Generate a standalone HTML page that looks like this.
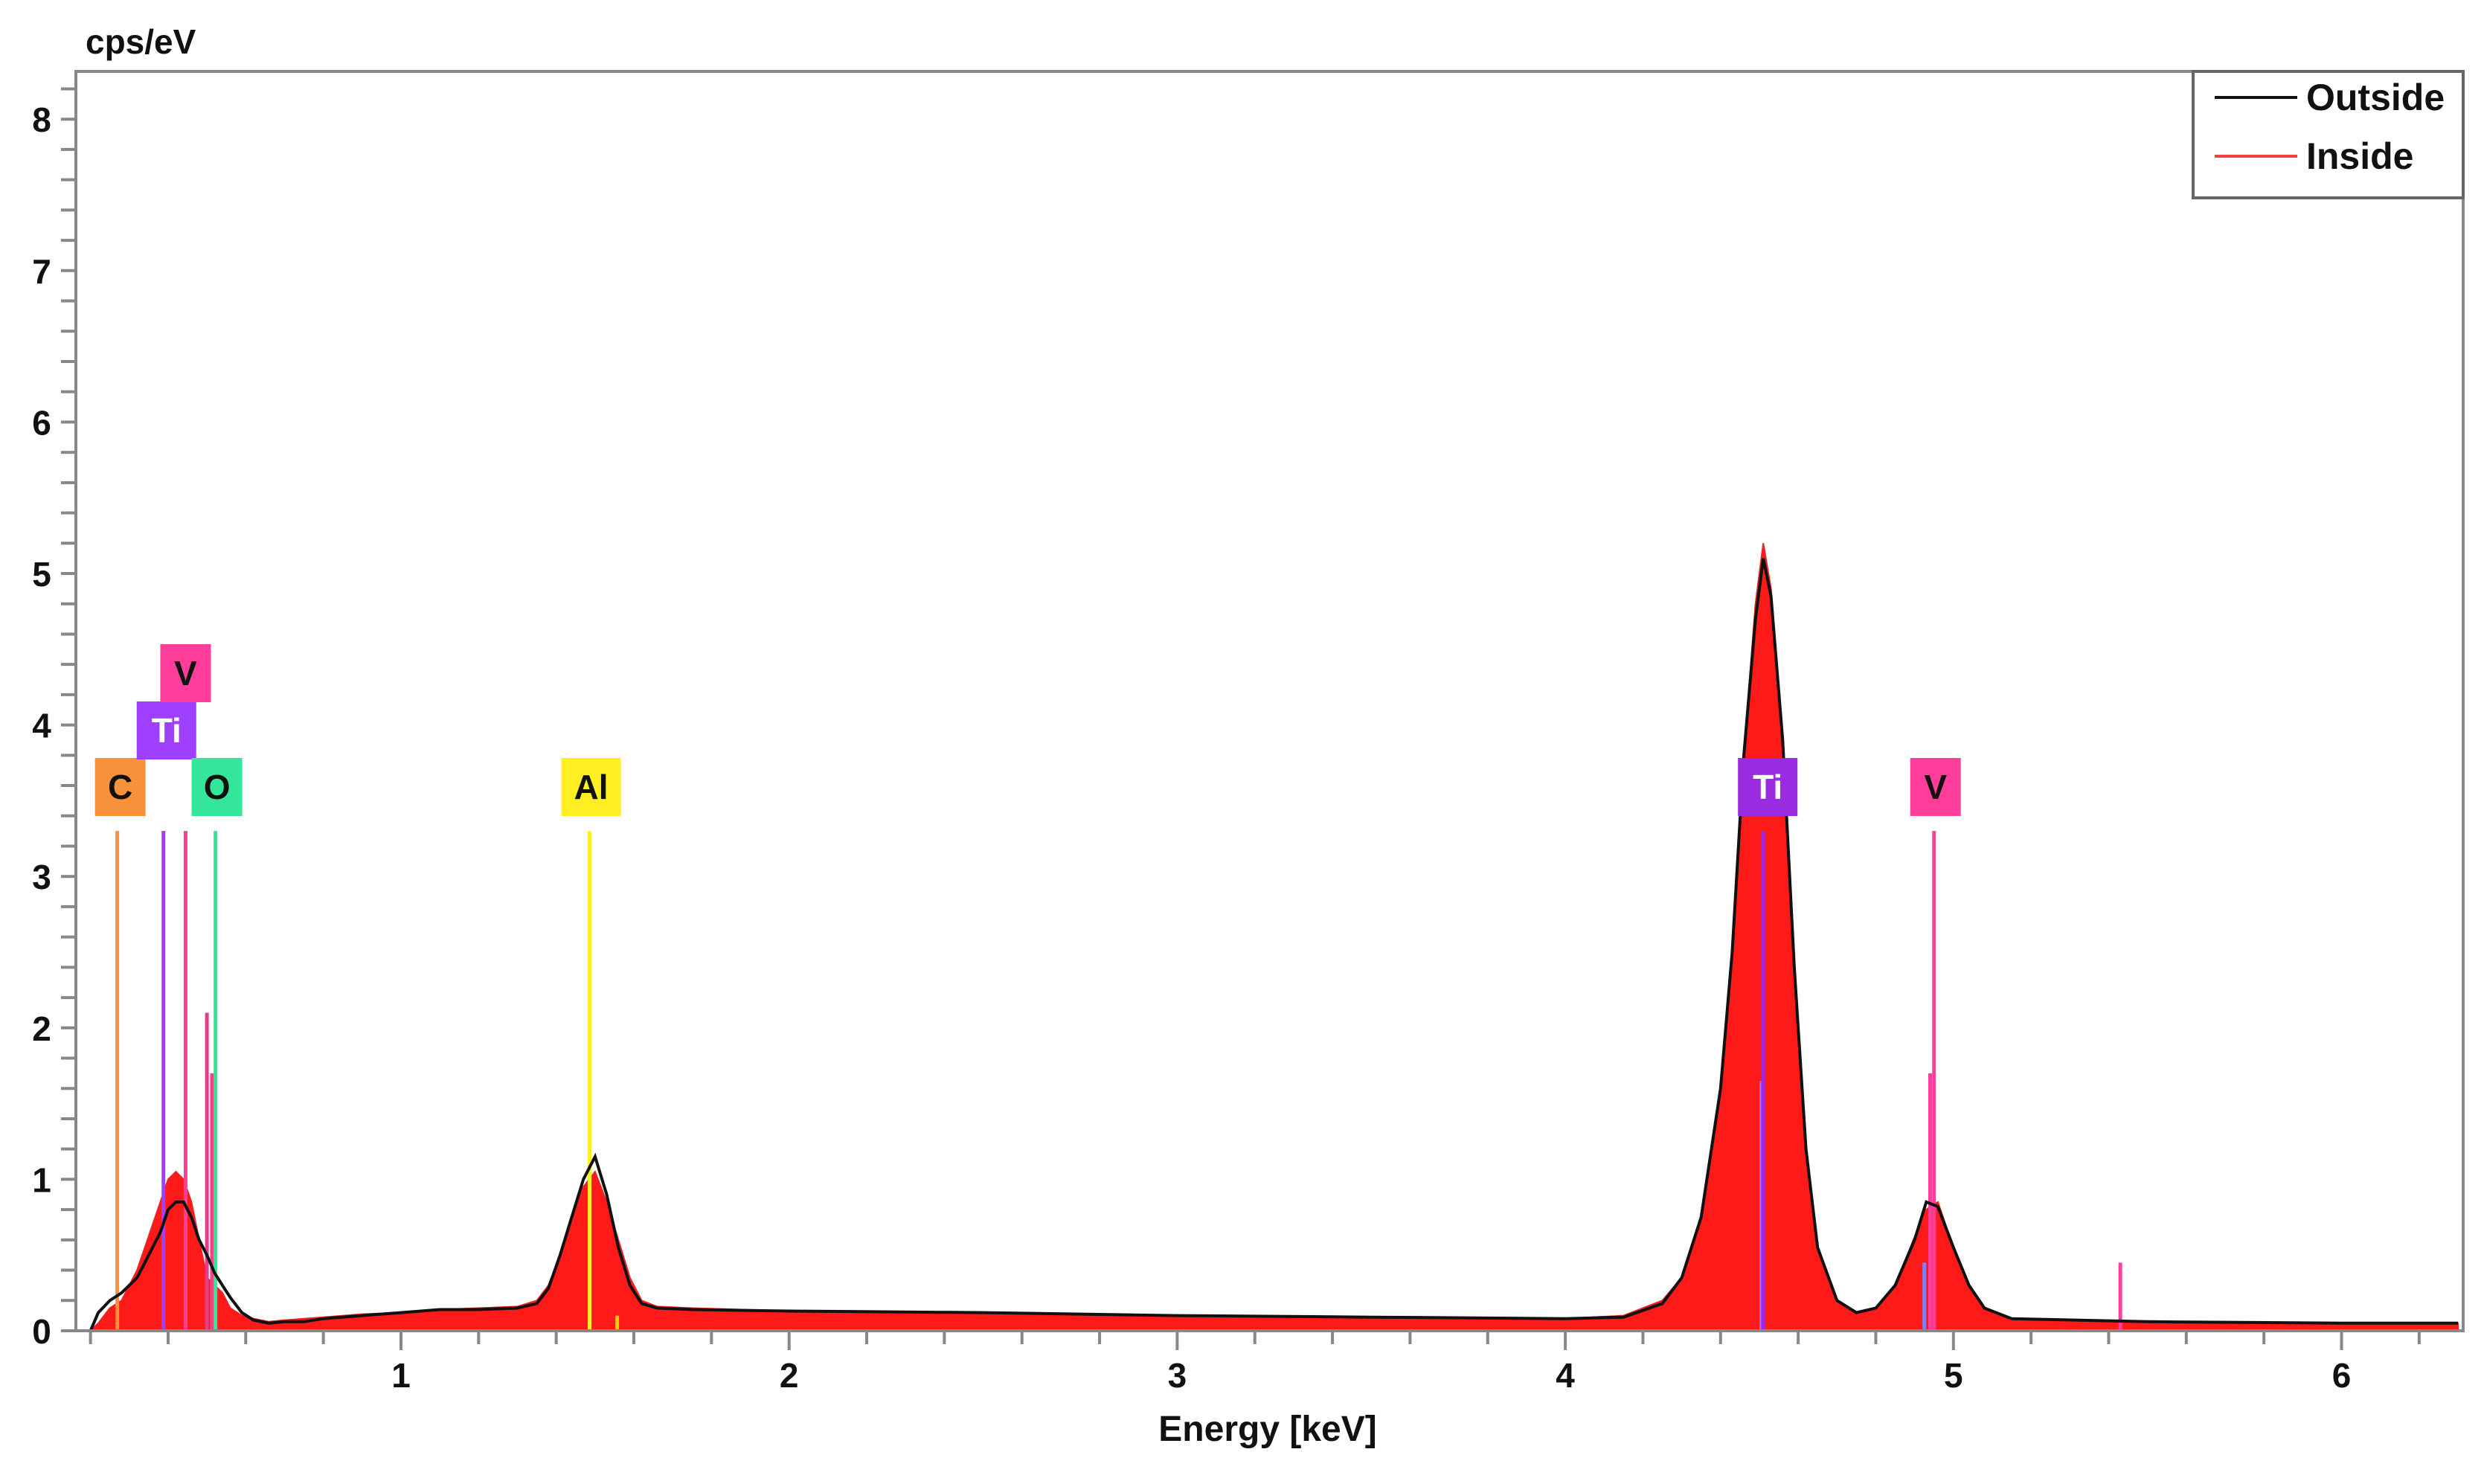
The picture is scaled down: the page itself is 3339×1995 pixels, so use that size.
<!DOCTYPE html>
<html><head><meta charset="utf-8"><style>
html,body{margin:0;padding:0;background:#fff;}
svg{display:block;font-family:"Liberation Sans",Arial,sans-serif;}
</style></head><body>
<svg id="chart" width="3339" height="1995" viewBox="0 0 3339 1995" xmlns="http://www.w3.org/2000/svg">
<rect x="0" y="0" width="3339" height="1995" fill="#fff"/>
<g id="plot"></g>
<rect x="102" y="96" width="3209" height="1693" fill="none" stroke="#888" stroke-width="4"/>
<g id="axes"></g>
<text x="115" y="72" font-size="46" font-weight="bold" fill="#111">cps/eV</text>
<text x="1704" y="1937" font-size="48" font-weight="bold" fill="#111" text-anchor="middle">Energy [keV]</text>
<g>
<rect x="2948" y="96" width="363" height="170" fill="#fff" stroke="#666" stroke-width="4"/>
<line x1="2977" y1="131" x2="3088" y2="131" stroke="#111" stroke-width="4"/>
<text x="3100" y="148" font-size="50" font-weight="bold" fill="#111">Outside</text>
<line x1="2977" y1="210" x2="3088" y2="210" stroke="#f04040" stroke-width="4"/>
<text x="3100" y="227" font-size="50" font-weight="bold" fill="#111">Inside</text>
</g>
</svg>
<script>
const energies = [0.20,0.22,0.25,0.28,0.30,0.32,0.34,0.36,0.38,0.40,0.42,0.44,0.46,0.48,0.50,0.52,0.54,0.56,0.59,0.62,0.66,0.70,0.75,0.80,0.90,1.00,1.10,1.20,1.30,1.35,1.38,1.41,1.44,1.47,1.50,1.53,1.56,1.59,1.62,1.66,1.75,2.00,2.50,3.00,3.50,4.00,4.15,4.25,4.30,4.35,4.40,4.43,4.46,4.49,4.51,4.53,4.56,4.59,4.62,4.65,4.70,4.75,4.80,4.85,4.90,4.93,4.96,5.00,5.04,5.08,5.15,5.50,6.00,6.30];
const outside = [0,0.12,0.2,0.25,0.3,0.35,0.45,0.55,0.65,0.8,0.85,0.85,0.75,0.6,0.5,0.38,0.3,0.22,0.12,0.07,0.05,0.06,0.06,0.08,0.1,0.12,0.14,0.14,0.15,0.18,0.28,0.5,0.75,1.0,1.15,0.9,0.55,0.3,0.18,0.15,0.14,0.13,0.12,0.1,0.09,0.08,0.09,0.18,0.35,0.75,1.6,2.5,3.8,4.7,5.1,4.85,3.9,2.4,1.2,0.55,0.2,0.12,0.15,0.3,0.6,0.85,0.82,0.55,0.3,0.15,0.08,0.06,0.05,0.05];
const inside = [0,0.05,0.15,0.2,0.3,0.4,0.55,0.7,0.85,1.0,1.05,1.0,0.85,0.6,0.35,0.3,0.25,0.15,0.1,0.08,0.06,0.07,0.08,0.09,0.11,0.12,0.14,0.15,0.16,0.2,0.3,0.5,0.75,0.95,1.05,0.85,0.6,0.35,0.2,0.16,0.15,0.13,0.12,0.1,0.09,0.08,0.1,0.2,0.35,0.75,1.6,2.5,3.8,4.8,5.2,4.9,3.9,2.4,1.2,0.55,0.2,0.12,0.15,0.3,0.62,0.8,0.85,0.55,0.3,0.15,0.08,0.06,0.05,0.05];
const xTicks = [1,2,3,4,5,6];
const yTicks = [0,1,2,3,4,5,6,7,8];
const elemNames = ["C","Ti","V","O","Al","Ti","V"];
const elemEnergies = [0.269,0.388,0.445,0.522,1.486,4.51,4.95];
const elemHeights = [3.3,3.3,3.3,3.3,3.3,3.3,3.3];
const elemRows = [0,1,2,0,0,0,0];
const elemColors = ["#f7923a","#a040ff","#ff3d9a","#33e69a","#ffee22","#9a2be0","#ff3d9a"];
const elemText = ["#111","#fff","#111","#111","#111","#fff","#111"];
const subEnergies = [0.50,0.513,4.505,4.94,4.925,5.43,1.557];
const subHeights = [2.1,1.7,1.65,1.7,0.45,0.45,0.1];
const subColors = ["#e0408a","#ee4488","#a060ff","#ff3d9a","#8080ff","#ff3d9a","#e6d000"];
const labelOffsets = [4,4,0,2,2,6,2];

const X0=102, X1=3311, Y0=1789;
const xs = e => 539 + (e-1)*521.7;
const ys = v => Y0 - v*203.6;
const NS="http://www.w3.org/2000/svg";
function mk(tag, attrs, parent){const el=document.createElementNS(NS,tag);for(const k in attrs)el.setAttribute(k,attrs[k]);parent.appendChild(el);return el;}
const plot=document.getElementById('plot'), axes=document.getElementById('axes');

let d='M'+xs(energies[0])+','+Y0;
energies.forEach((e,i)=>{d+=' L'+xs(e).toFixed(1)+','+ys(inside[i]).toFixed(1);});
d+=' L'+xs(energies[energies.length-1])+','+Y0+' Z';
const fillEl=mk('path',{d:d,fill:'#ff1a1a',stroke:'#f02020','stroke-width':2},plot);



subEnergies.forEach((e,i)=>{
  const l=mk('line',{x1:xs(e),x2:xs(e),y1:Y0,y2:ys(subHeights[i]),stroke:subColors[i],'stroke-width':5},plot);
  
  
});
elemEnergies.forEach((e,i)=>{
  const l=mk('line',{x1:xs(e),x2:xs(e),y1:Y0,y2:ys(elemHeights[i]),stroke:elemColors[i],'stroke-width':5},plot);
  
  
});

let p='';
energies.forEach((e,i)=>{p+=(i?' L':'M')+xs(e).toFixed(1)+','+ys(outside[i]).toFixed(1);});
const outEl=mk('path',{d:p,fill:'none',stroke:'#111','stroke-width':4},plot);



const rowY=[1058,982,905];
elemEnergies.forEach((e,i)=>{
  const w = elemNames[i].length>1?80:68;
  const cx = xs(e)+labelOffsets[i];
  const cy = rowY[elemRows[i]];
  const g=mk('g',{},plot);
  
  
  mk('rect',{x:cx-w/2,y:cy-39,width:w,height:78,fill:elemColors[i]},g);
  const t=mk('text',{x:cx,y:cy+16,'font-size':46,'font-weight':'bold','text-anchor':'middle',fill:elemText[i]},g);
  t.textContent=elemNames[i];
});

for(let e=0.2;e<=6.3;e+=0.2){
  const major=Math.abs(e-Math.round(e))<1e-6;
  const t=mk('line',{x1:xs(e),x2:xs(e),y1:Y0,y2:Y0+(major?26:18),stroke:'#888','stroke-width':4},axes);
  
  
}
xTicks.forEach(v=>{
  const t=mk('text',{x:xs(v),y:1865,'font-size':46,'font-weight':'bold','text-anchor':'middle',fill:'#111'},axes);
  
  
  t.textContent=v;
});
for(let k=0;k<=41;k++){
  const v=k*0.2;
  const t=mk('line',{x1:X0-20,x2:X0,y1:ys(v),y2:ys(v),stroke:'#888','stroke-width':4},axes);
  
  
}
yTicks.forEach(v=>{
  const t=mk('text',{x:56,y:ys(v)+17,'font-size':46,'font-weight':'bold','text-anchor':'middle',fill:'#111'},axes);
  
  
  t.textContent=v;
});
</script>
</body></html>
